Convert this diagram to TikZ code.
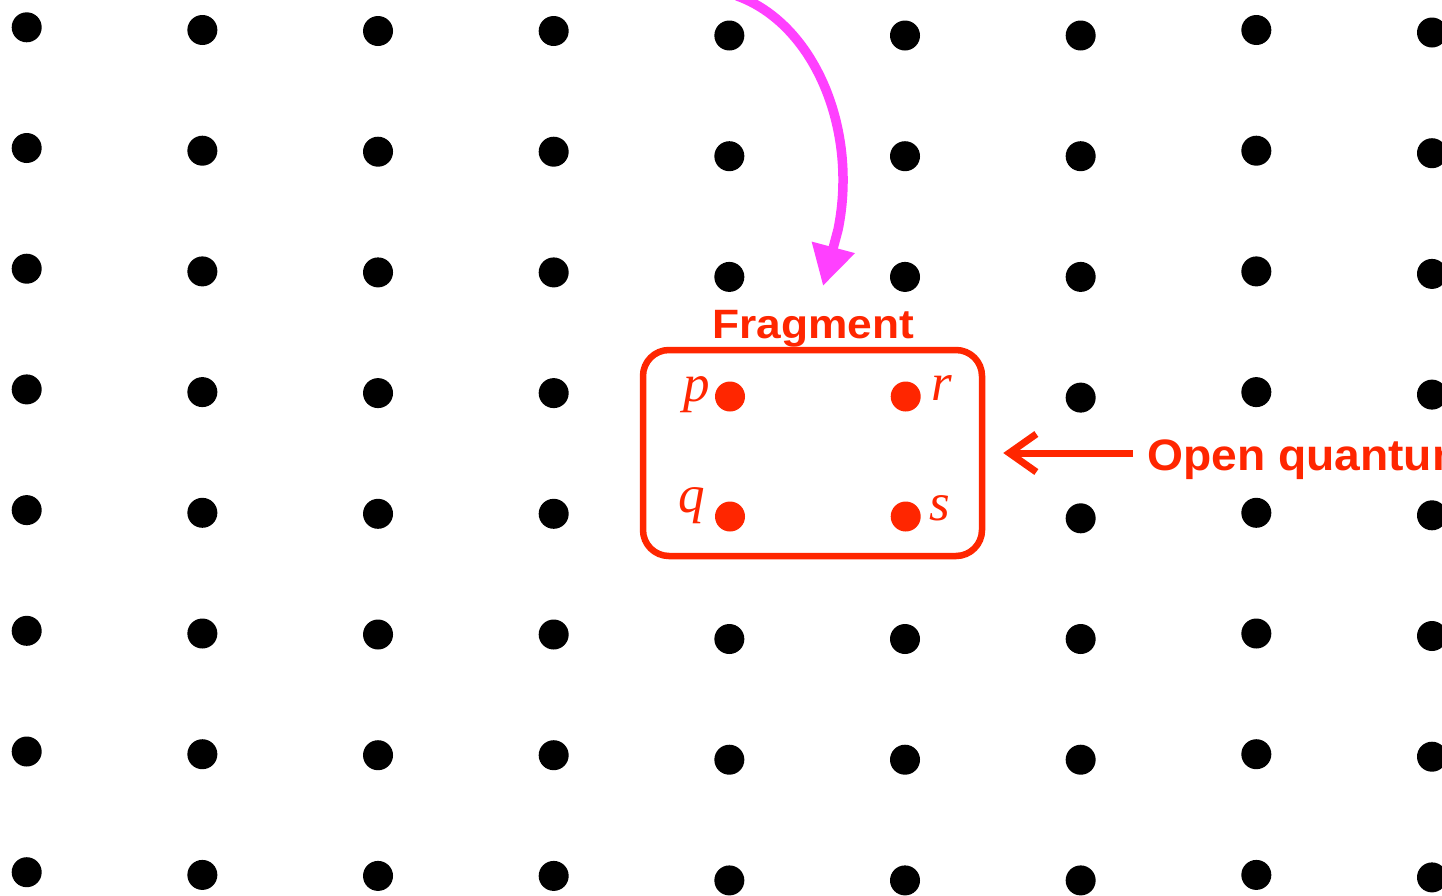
\documentclass[tikz,border=0pt]{standalone}
\usepackage{fontspec}
\setmainfont{Liberation Sans}
\newfontfamily\serifit{Liberation Serif}
\usetikzlibrary{arrows.meta}
\definecolor{fragred}{RGB}{255,38,0}
\definecolor{magarrow}{RGB}{255,64,255}
\begin{document}
\begin{tikzpicture}[x=1pt,y=-1pt,
  gdot/.style={circle,fill=black,inner sep=0pt,minimum size=30pt},
  rdot/.style={circle,fill=fragred,inner sep=0pt,minimum size=30pt},
  lbl/.style={text=fragred,font=\fontsize{53}{53}\selectfont\serifit\itshape,inner sep=0pt,anchor=base},
  redtitle/.style={text=fragred,font=\fontsize{41}{41}\selectfont\bfseries,inner sep=0pt},
  fragbox/.style={draw=fragred,line width=6.5pt,rounded corners=26pt,minimum width=339pt,minimum height=206pt,inner sep=0pt},
  redarrow/.style={draw=fragred,line width=7pt,-{Straight Barb[length=27pt,width=38pt]}},
  magline/.style={draw=magarrow,line width=9.5pt,-{Triangle[length=40pt,width=42pt]}}
]
\useasboundingbox (0,0) rectangle (1442,895);
\clip (0,0) rectangle (1442,895);
\fill[white] (0,0) rectangle (1442,895);
% black grid of dots
\foreach \c/\t in {0/27.3,1/30,2/31,3/31,4/35.5,5/35.5,6/35.5,7/30,8/32.5}{
  \foreach \r in {0,...,7}{
    \pgfmathtruncatemacro{\skip}{((\c==4)||(\c==5))&&((\r==3)||(\r==4))}
    \ifnum\skip=0
      \node[gdot] (g\c-\r) at ({26.7+175.66*\c},{\t+120.7*\r}) {};
    \fi
  }
}
% fragment
\node[rdot] (p) at (730,396.5) {};
\node[rdot] (r) at (905.7,396.5) {};
\node[rdot] (q) at (730,516.5) {};
\node[rdot] (s) at (905.7,516.5) {};
\node[lbl] (pl) at (697,401) {p};
\node[lbl] (rl) at (942,400) {r};
\node[lbl] (ql) at (692,512.5) {q};
\node[lbl] (sl) at (940,520) {s};
\node[fragbox] (box) at (812.5,453) {};
\node[redtitle,anchor=base] (frag) at (813.5,338) {\scalebox{1.08}[1]{Fragment}};
\node[redtitle,anchor=base west,font=\fontsize{44}{44}\selectfont\bfseries] (oq) at (1147,470) {\scalebox{1.05}[1]{Open quantum system}};
\draw[redarrow,shorten <=14pt,shorten >=18pt] (oq.west |- box.east) -- (box.east);
% magenta arrow
\coordinate (mstart) at (737.0,-4.1);
\coordinate (mend) at (823,286);
\draw[magline] (mstart) arc[start angle=-75,end angle=15,x radius=143,y radius=190.6] -- (mend);
\end{tikzpicture}
\end{document}
